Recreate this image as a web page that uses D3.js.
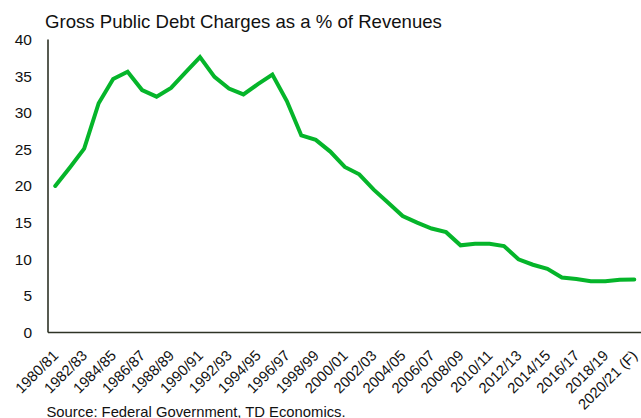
<!DOCTYPE html>
<html>
<head>
<meta charset="utf-8">
<script src="https://cdn.jsdelivr.net/npm/d3@7/dist/d3.min.js"></script>
<style>
  html, body { margin: 0; padding: 0; background: #fff; }
  svg { display: block; font-family: "Liberation Sans", Arial, sans-serif; }
</style>
</head>
<body>
<svg id="chart" width="641" height="418"></svg>
<script>
// Fiscal years 1980/81 .. 2020/21 (last one is a forecast)
const years = d3.range(1980, 2021);
const fiscalLabels = years.map(y => {
  const next = String((y + 1) % 100).padStart(2, "0");
  return y + "/" + next + (y === 2020 ? " (F)" : "");
});

// Gross public debt charges, % of revenues
const debtChargesPct = [
  20.0, 22.5, 25.1, 31.3, 34.6, 35.6, 33.1, 32.2, 33.4, 35.5,
  37.6, 34.9, 33.3, 32.5, 33.9, 35.2, 31.6, 26.9, 26.3, 24.7,
  22.6, 21.6, 19.5, 17.7, 15.9, 15.0, 14.2, 13.7, 11.9, 12.1,
  12.1, 11.8, 10.0, 9.25, 8.7, 7.5, 7.3, 7.0, 7.0, 7.2,
  7.25
];

const yTicks = [0, 5, 10, 15, 20, 25, 30, 35, 40];

const titleText = "Gross Public Debt Charges as a % of Revenues";
const sourceText = "Source: Federal Government, TD Economics.";

const svg = d3.select("#chart");
const W = 641, H = 418;
const plot = { left: 48, right: 641.5, top: 39.5, bottom: 332.5 };

const x = d3.scaleBand()
  .domain(fiscalLabels)
  .range([plot.left, plot.right])
  .padding(0);
const cx = d => x(d) + x.bandwidth() / 2;

const y = d3.scaleLinear()
  .domain([0, 40])
  .range([plot.bottom, plot.top]);

// Title
svg.append("text")
  .attr("x", 45)
  .attr("y", 27.5)
  .attr("font-size", 18.6)
  .attr("fill", "#111")
  .text(titleText);

// Y axis tick labels (no tick marks)
const yAxis = d3.axisLeft(y).tickValues(yTicks).tickSize(0).tickPadding(16);
const gy = svg.append("g")
  .attr("transform", `translate(${plot.left},0)`)
  .call(yAxis);
gy.select(".domain").remove();
gy.selectAll("text")
  .attr("font-size", 15.5)
  .attr("font-family", "Liberation Sans, Arial, sans-serif")
  .attr("fill", "#111")
  .attr("dy", "0.32em");

// X axis labels: every other fiscal year, rotated
const xAxis = d3.axisBottom(x)
  .tickValues(fiscalLabels.filter((d, i) => i % 2 === 0))
  .tickSize(0)
  .tickPadding(0);
const gx = svg.append("g")
  .attr("transform", `translate(0,${plot.bottom})`)
  .call(xAxis);
gx.select(".domain").remove();
gx.selectAll("text")
  .attr("font-size", 14.8)
  .attr("font-family", "Liberation Sans, Arial, sans-serif")
  .attr("fill", "#111")
  .attr("text-anchor", "end")
  .attr("dy", 0)
  .attr("transform", "translate(4,24) rotate(-45)");

// Axis lines
svg.append("line")
  .attr("x1", plot.left).attr("x2", plot.left)
  .attr("y1", plot.top).attr("y2", plot.bottom)
  .attr("stroke", "#2e3326").attr("stroke-width", 1.6);
svg.append("line")
  .attr("x1", plot.left).attr("x2", W)
  .attr("y1", plot.bottom).attr("y2", plot.bottom)
  .attr("stroke", "#2e3326").attr("stroke-width", 1.6);

// Series line
const line = d3.line()
  .x((d, i) => cx(fiscalLabels[i]))
  .y(d => y(d));
svg.append("path")
  .datum(debtChargesPct)
  .attr("d", line)
  .attr("fill", "none")
  .attr("stroke", "#05b52a")
  .attr("stroke-width", 4)
  .attr("stroke-linejoin", "miter")
  .attr("stroke-linecap", "round");

// Source note
svg.append("text")
  .attr("x", 46.5)
  .attr("y", 416.5)
  .attr("font-size", 14.8)
  .attr("fill", "#111")
  .text(sourceText);
</script>
</body>
</html>
